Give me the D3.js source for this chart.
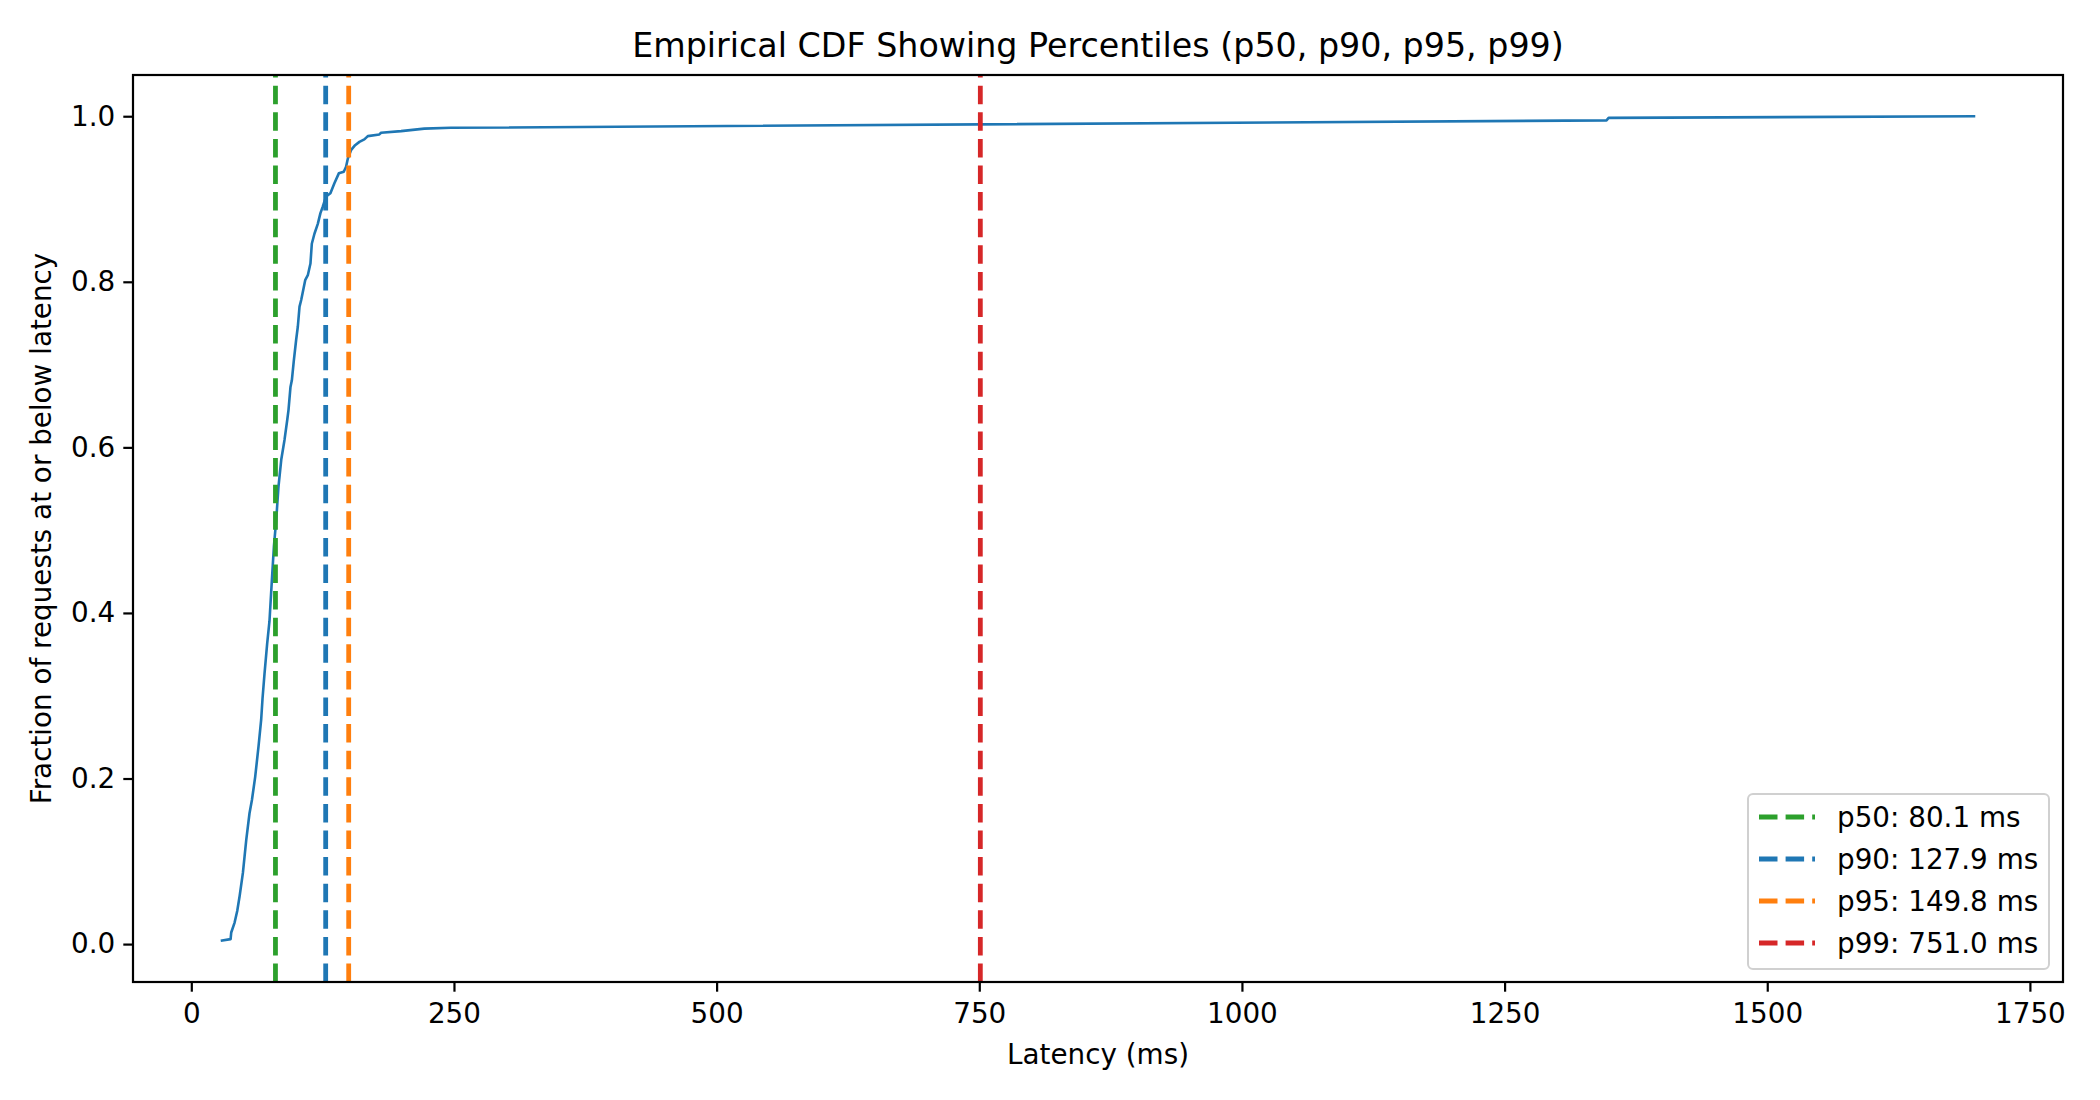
<!DOCTYPE html>
<html>
<head>
<meta charset="utf-8">
<script src="https://cdn.jsdelivr.net/npm/d3@7"></script>
<style>
    body { margin: 0; background: #fff; }
    svg text { font-family: "DejaVu Sans", sans-serif; fill: #000; }
</style>
</head>
<body>
<div id="chart"></div>
<script>
// ECDF (latency in ms, fraction at or below)
const latencyMs = [28, 37.4, 38, 41.2, 43.7, 46, 49.1, 50.7, 52.3, 55.4, 57.7, 60.8, 64, 66.5, 67.8,
    69.7, 72.2, 74.4, 76.7, 78.6, 80.8, 83, 85.6, 88.7, 91.3, 92.5, 94.4, 95.7, 97.6, 99.8, 101.4,
    103, 104.6, 108.4, 110.9, 113.4, 114.7, 117.2, 120.4, 122.9, 125.2, 128.3, 132.4, 136.2, 140.4,
    145.1, 147.3, 149, 152, 155.9, 160, 164.7, 168, 179, 180.6, 199.6, 221.8, 247, 1347, 1349, 1698];
const cdfFraction = [0.004, 0.006, 0.014, 0.026, 0.040, 0.058, 0.086, 0.106, 0.126, 0.158, 0.174, 0.202,
    0.239, 0.271, 0.297, 0.327, 0.363, 0.390, 0.44, 0.48, 0.512, 0.553, 0.585, 0.609, 0.633, 0.645,
    0.673, 0.681, 0.705, 0.730, 0.746, 0.770, 0.778, 0.802, 0.808, 0.822, 0.846, 0.858, 0.870, 0.883,
    0.891, 0.903, 0.907, 0.919, 0.931, 0.933, 0.939, 0.949, 0.959, 0.965, 0.969, 0.972, 0.976, 0.978,
    0.980, 0.982, 0.985, 0.986, 0.995, 0.998, 1.0];

const pctNames = ['p50', 'p90', 'p95', 'p99'];
const pctValues = [80.1, 127.9, 149.8, 751.0];
const pctColors = ['#2ca02c', '#1f77b4', '#ff7f0e', '#d62728'];

const xTicks = [0, 250, 500, 750, 1000, 1250, 1500, 1750];
const yTicks = [0.0, 0.2, 0.4, 0.6, 0.8, 1.0];

const width = 2100, height = 1100;
const margin = { top: 75, right: 37, bottom: 118, left: 133 };
const fs = 27.8;

const svg = d3.select('#chart').append('svg')
    .attr('width', width)
    .attr('height', height);
svg.append('rect').attr('width', width).attr('height', height).attr('fill', '#fff');

// matplotlib-style 5% margins on both axes
const xMin = d3.min(latencyMs), xMax = d3.max(latencyMs);
const xPad = (xMax - xMin) * 0.05;
const yMin = d3.min(cdfFraction), yMax = d3.max(cdfFraction);
const yPad = (yMax - yMin) * 0.05;
const x = d3.scaleLinear()
    .domain([xMin - xPad, xMax + xPad])
    .range([margin.left, width - margin.right]);
const y = d3.scaleLinear()
    .domain([yMin - yPad, yMax + yPad])
    .range([height - margin.bottom, margin.top]);

const points = latencyMs.map((v, i) => [v, cdfFraction[i]]);

const line = d3.line()
    .x(d => x(d[0]))
    .y(d => y(d[1]));

svg.append('path')
    .datum(points)
    .attr('fill', 'none')
    .attr('stroke', '#1f77b4')
    .attr('stroke-width', 2.6)
    .attr('stroke-linejoin', 'round')
    .attr('d', line);

// percentile lines, drawn bottom to top so the dash pattern starts at the bottom
svg.append('g').selectAll('line')
    .data(pctValues)
    .enter()
    .append('line')
    .attr('x1', d => x(d)).attr('x2', d => x(d))
    .attr('y1', y.range()[0]).attr('y2', y.range()[1])
    .attr('stroke', (d, i) => pctColors[i])
    .attr('stroke-width', 4.8)
    .attr('stroke-dasharray', '18.5,8.1');

// axes
const xAxis = svg.append('g')
    .attr('transform', `translate(0,${height - margin.bottom})`)
    .call(d3.axisBottom(x).tickValues(xTicks).tickSize(9.7).tickPadding(12).tickFormat(d3.format('d')));
const yAxis = svg.append('g')
    .attr('transform', `translate(${margin.left},0)`)
    .call(d3.axisLeft(y).tickValues(yTicks).tickSize(9.7).tickPadding(8).tickFormat(d3.format('.1f')));

[xAxis, yAxis].forEach(a => {
    a.select('.domain').remove();
    a.selectAll('.tick line').attr('stroke', '#000').attr('stroke-width', 2.2);
    a.selectAll('.tick text').attr('font-size', fs).style('font-family', '"DejaVu Sans", sans-serif');
});

// frame
svg.append('rect')
    .attr('x', margin.left).attr('y', margin.top)
    .attr('width', width - margin.left - margin.right)
    .attr('height', height - margin.top - margin.bottom)
    .attr('fill', 'none')
    .attr('stroke', '#000')
    .attr('stroke-width', 2.2);

// title and labels
svg.append('text')
    .attr('x', (margin.left + width - margin.right) / 2)
    .attr('y', 57)
    .attr('text-anchor', 'middle')
    .attr('font-size', 33.3)
    .text('Empirical CDF Showing Percentiles (p50, p90, p95, p99)');

svg.append('text')
    .attr('x', (margin.left + width - margin.right) / 2)
    .attr('y', 1064)
    .attr('text-anchor', 'middle')
    .attr('font-size', fs)
    .text('Latency (ms)');

svg.append('text')
    .attr('transform', `translate(51,${(margin.top + height - margin.bottom) / 2}) rotate(-90)`)
    .attr('text-anchor', 'middle')
    .attr('font-size', fs)
    .text('Fraction of requests at or below latency');

// legend
const legX = 1748, legY = 794, legW = 301, legH = 175, rowH = 42;
const legend = svg.append('g');
legend.append('rect')
    .attr('x', legX).attr('y', legY)
    .attr('width', legW).attr('height', legH)
    .attr('rx', 5)
    .attr('fill', '#fff').attr('fill-opacity', 0.8)
    .attr('stroke', '#d0d0d0').attr('stroke-width', 2);

pctNames.forEach((name, i) => {
    const cy = legY + 23 + i * rowH;
    legend.append('line')
        .attr('x1', legX + 11).attr('x2', legX + 67)
        .attr('y1', cy).attr('y2', cy)
        .attr('stroke', pctColors[i])
        .attr('stroke-width', 4.8)
        .attr('stroke-dasharray', '18.5,8.1');
    legend.append('text')
        .attr('x', legX + 89)
        .attr('y', cy + 10)
        .attr('font-size', fs)
        .text(`${name}: ${pctValues[i].toFixed(1)} ms`);
});
</script>
</body>
</html>
